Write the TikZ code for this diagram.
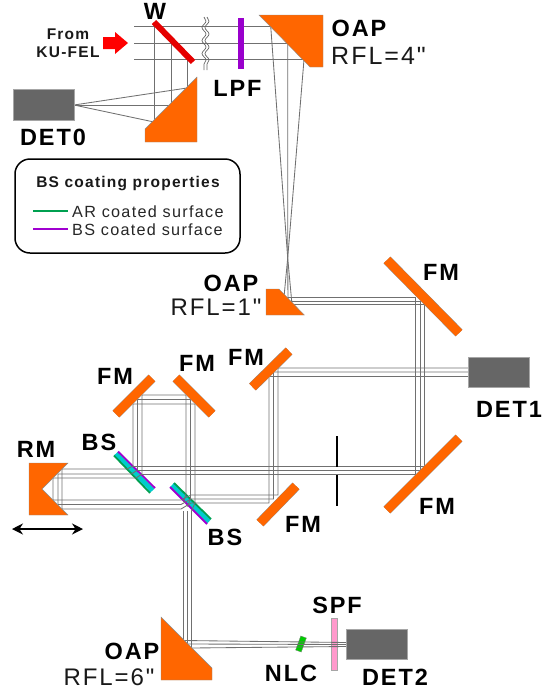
\documentclass[tikz,border=0pt]{standalone}
\usepackage{fontspec}
\usepackage{xcolor}
\usetikzlibrary{arrows.meta,decorations.pathmorphing}
\setmainfont{Liberation Sans}
\newfontfamily\lblfont[LetterSpace=8]{Liberation Sans}
\definecolor{oapcol}{HTML}{FF6600}
\definecolor{detcol}{HTML}{666666}
\definecolor{beamcol}{HTML}{707070}
\definecolor{lpfcol}{HTML}{9900CC}
\definecolor{arcol}{HTML}{00A050}
\definecolor{bscol}{HTML}{A000D0}
\definecolor{subcol}{HTML}{00CCCC}
\definecolor{spfcol}{HTML}{FF99CC}
\tikzset{
  lbl/.style={font=\lblfont\bfseries\fontsize{23.5}{26}\selectfont,inner sep=0pt,text=black},
  rfl/.style={font=\lblfont\fontsize{24}{26}\selectfont,inner sep=0pt,text=black!90},
  small/.style={font=\lblfont\bfseries\fontsize{15.5}{18}\selectfont,inner sep=0pt,text=black!90},
  legtxt/.style={font=\lblfont\fontsize{16.2}{18}\selectfont,inner sep=0pt,text=black!85},
  beam/.style={draw=beamcol,line width=.85pt},
  fm/.style={draw=black!45,double=oapcol,double distance=9pt,line width=.4pt},
  oap/.style={draw=black!45,fill=oapcol,line width=.4pt},
  det/.style={draw=black!35,fill=detcol,line width=.4pt},
}
\begin{document}
\begin{tikzpicture}[x=1pt,y=-1pt]
\useasboundingbox (0,0) rectangle (543,697);
% Filters and beam splitters (beams show through them)
\draw[subcol,line width=5pt] (116,453.5) -- (152.5,490.5);
\draw[bscol,line width=1.8pt] (118,451.5) -- (155,488);
\draw[arcol,line width=1.8pt] (114,455.5) -- (150,493);
\draw[subcol,line width=5pt] (172,485) -- (209,521.5);
\draw[arcol,line width=1.8pt] (174,483) -- (211,519);
\draw[bscol,line width=1.8pt] (170,487) -- (207,524);
\fill[spfcol,draw=black!35,line width=.3pt] (330.7,618) rectangle (336.7,670);
\draw[draw=black!50,fill=green!80!black,line width=.3pt,rotate around={-20:(301,644)}] (298,636.5) rectangle (304,651.5);
% Incoming beam
\foreach \yb/\xb/\xc/\yc in {26/270.7/154/122, 43/287.7/171/105, 59.5/304/187/88}{
  \draw[beam] (134,\yb) -- (\xb,\yb);
  \draw[beam] (\xc,\yb) -- (\xc,\yc);
}
% To DET0
\coordinate (det0in) at (74,105);
\foreach \xc/\yc in {154/122, 171/105, 187/88}{
  \draw[beam] (\xc,\yc) -- (det0in);
}
% Break in the beam
\foreach \xw in {204,207}{
  \draw[draw=black!60,line width=.7pt,decorate,decoration={snake,segment length=13pt,amplitude=2pt}] (\xw,17) -- (\xw,70);
}
% Focused down to OAP RFL=1
\foreach \xa/\ya/\xd/\yd in {270.7/26/292/304.5, 287.7/43/288/301, 304/59.5/284/297}{
  \draw[beam] (\xa,\ya) -- (287.7,258) -- (\xd,\yd);
}
% Collimated beam to the delay arms
\foreach \xd/\yd/\xr/\yu/\xv/\xrm/\yrm/\yrl/\xfm/\yfm/\xu/\yt/\yrr/\xo in {
  284/297/415.5/474/142/53/478/500/278/368/186/395/495/183.5,
  288/301/420/470/137.5/58/474/504.5/273.5/372/190.5/399.5/499/187.5,
  292/304.5/424.5/466/133/62/469/509/269/376.5/195/404/503/191.5}{
  \draw[beam] (\xd,\yd) -- (\xr,\yd) -- (\xr,\yu) -- (\xv,\yu);
  \draw[beam] (\xv,\yu) -- (\xv-6,\yrm) -- (\xrm,\yrm) -- (\xrm,\yrl) -- (181,\yrl) -- (191,\yrr) -- (\xfm,\yrr) -- (\xfm,\yfm) -- (468,\yfm);
  \draw[beam] (\xv,\yu) -- (\xv,\yt) -- (\xu,\yt) -- (\xu,{\xu+308}) -- (\xo,{\xu+316});
}
% Final leg to DET2
\foreach \xo/\yo/\ye in {183.5/640.5/642.5, 187.5/644/644.5, 191.5/648/646.5}{
  \draw[beam] (\xo,511) -- (\xo,\yo) -- (346,\ye);
}
% Mirrors
\draw[oap] (259,15) -- (323,15) -- (323,67) -- (310,67) -- cycle;
\draw[oap] (197,77) -- (197,142) -- (145,142) -- (145,129) -- cycle;
\draw[oap] (266,289) -- (279,289) -- (304.3,315) -- (266,315) -- cycle;
\draw[oap] (161,617) -- (212,668) -- (212,680) -- (161,680) -- cycle;
\draw[oap] (29,463) -- (68,463) -- (42,489) -- (68,515) -- (29,515) -- cycle;
\draw[fm] (116,414) -- (152,378);
\draw[fm] (176,378) -- (212,414);
\draw[fm] (252.5,387) -- (289,351);
\draw[fm] (260,523) -- (296,486);
\draw[fm] (387,260) -- (459,333);
\draw[fm] (387,510) -- (459,438);
% Window and long pass filter
\draw[red!90!black,line width=6pt] (154,22) -- (193,62);
\draw[lpfcol,line width=6pt] (241,18) -- (241,69);
% Detectors
\draw[det] (13,89) rectangle (74,120);
\draw[det] (468,357) rectangle (529,387);
\draw[det] (346,628.7) rectangle (406.7,659.3);
% Iris
\draw[black,line width=1.8pt] (337,436) -- (337,467);
\draw[black,line width=1.8pt] (337,475) -- (337,506);
% FEL arrow and travel of RM
\fill[red] (103,37) -- (115,37) -- (115,32) -- (128,43) -- (115,54) -- (115,49) -- (103,49) -- cycle;
\draw[{Stealth[length=11pt,width=11pt]}-{Stealth[length=11pt,width=11pt]},line width=1.5pt] (12,529) -- (83,529);
% Legend
\draw[rounded corners=15pt,line width=1.5pt] (15,159) rectangle (240,253);
\node[small] (legtitle) at (128,184) {BS coating properties};
\draw[arcol,line width=1.4pt] (33,211) -- (68,211);
\draw[bscol,line width=1.4pt] (33,229) -- (68,229);
\node[legtxt,anchor=west] (legar) at (72,212) {AR coated surface};
\node[legtxt,anchor=west] (legbs) at (72,230) {BS coated surface};
% Labels
\node[small] (labfrom) at (68,34) {From};
\node[small] (labku) at (68,52) {KU-FEL};
\node[lbl] (labw) at (155,11) {W};
\node[lbl] (lablpf) at (237.5,88) {LPF};
\node[lbl] (labdeto) at (53,137) {DET0};
\node[lbl] (laboapa) at (359,28) {OAP};
\node[rfl,anchor=west,font=\lblfont\fontsize{25}{26}\selectfont] (labrfla) at (331,56) {RFL=4"};
\node[lbl] (laboapb) at (231,283) {OAP};
\node[rfl] (labrflb) at (216,307) {RFL=1"};
\node[lbl] (labfma) at (441,272) {FM};
\node[lbl] (labfmb) at (246,357) {FM};
\node[lbl] (labfmc) at (197,363) {FM};
\node[lbl] (labfmd) at (115,376) {FM};
\node[lbl] (labfme) at (437,506) {FM};
\node[lbl] (labfmf) at (303,524) {FM};
\node[lbl] (labdeta) at (509,409) {DET1};
\node[lbl] (labbsa) at (99,442) {BS};
\node[lbl] (labbsb) at (225,537) {BS};
\node[lbl] (labrm) at (36,449) {RM};
\node[lbl] (labspf) at (337,605) {SPF};
\node[lbl] (labnlc) at (291,673) {NLC};
\node[lbl] (labdetb) at (395,677) {DET2};
\node[lbl] (laboapc) at (132,651) {OAP};
\node[rfl] (labrflc) at (109,677) {RFL=6"};
\end{tikzpicture}
\end{document}
